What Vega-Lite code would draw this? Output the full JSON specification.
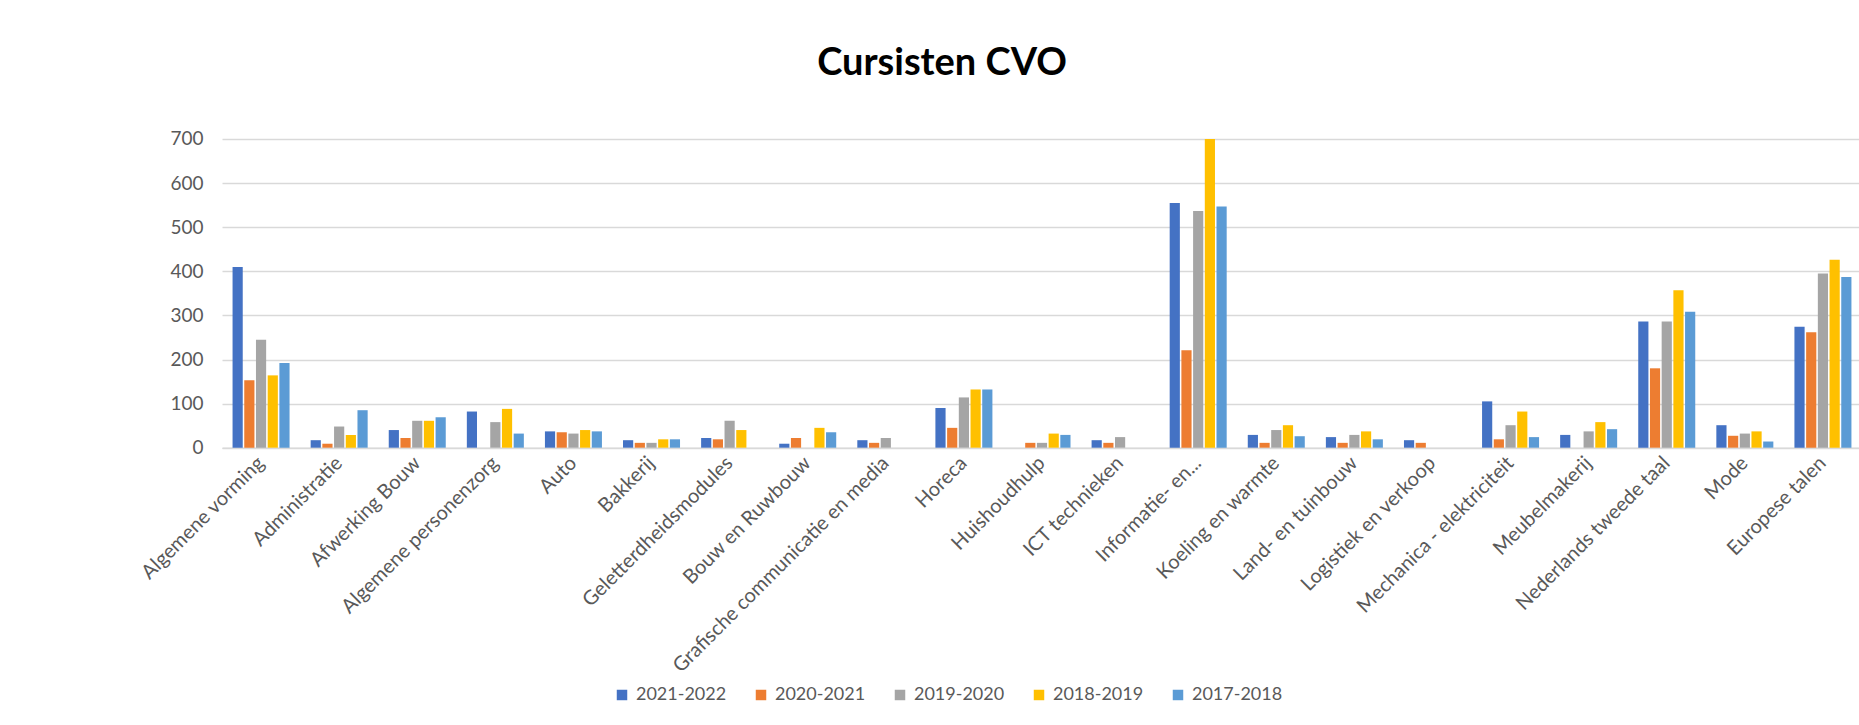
{
  "$schema": "https://vega.github.io/schema/vega-lite/v6.json",
  "autosize": {"type": "none"},
  "padding": {"left": 222, "top": 139, "right": 0, "bottom": 277},
  "width": 1640,
  "height": 308.7,
  "background": "white",
  "title": {
    "text": "Cursisten CVO",
    "font": "Lato",
    "fontSize": 38,
    "fontWeight": "bold",
    "color": "#000000",
    "anchor": "middle",
    "frame": "group",
    "dx": -100,
    "baseline": "alphabetic",
    "offset": 17
  },
  "data": {
    "values": [
      {"c": "Algemene vorming", "s": "2021-2022", "v": 410},
      {"c": "Algemene vorming", "s": "2020-2021", "v": 153},
      {"c": "Algemene vorming", "s": "2019-2020", "v": 245},
      {"c": "Algemene vorming", "s": "2018-2019", "v": 164},
      {"c": "Algemene vorming", "s": "2017-2018", "v": 192},
      {"c": "Administratie", "s": "2021-2022", "v": 17},
      {"c": "Administratie", "s": "2020-2021", "v": 9},
      {"c": "Administratie", "s": "2019-2020", "v": 48},
      {"c": "Administratie", "s": "2018-2019", "v": 29},
      {"c": "Administratie", "s": "2017-2018", "v": 85},
      {"c": "Afwerking Bouw", "s": "2021-2022", "v": 40},
      {"c": "Afwerking Bouw", "s": "2020-2021", "v": 22},
      {"c": "Afwerking Bouw", "s": "2019-2020", "v": 61},
      {"c": "Afwerking Bouw", "s": "2018-2019", "v": 61},
      {"c": "Afwerking Bouw", "s": "2017-2018", "v": 69},
      {"c": "Algemene personenzorg", "s": "2021-2022", "v": 82},
      {"c": "Algemene personenzorg", "s": "2019-2020", "v": 58},
      {"c": "Algemene personenzorg", "s": "2018-2019", "v": 88},
      {"c": "Algemene personenzorg", "s": "2017-2018", "v": 32},
      {"c": "Auto", "s": "2021-2022", "v": 37},
      {"c": "Auto", "s": "2020-2021", "v": 35},
      {"c": "Auto", "s": "2019-2020", "v": 32},
      {"c": "Auto", "s": "2018-2019", "v": 40},
      {"c": "Auto", "s": "2017-2018", "v": 37},
      {"c": "Bakkerij", "s": "2021-2022", "v": 17},
      {"c": "Bakkerij", "s": "2020-2021", "v": 11},
      {"c": "Bakkerij", "s": "2019-2020", "v": 11},
      {"c": "Bakkerij", "s": "2018-2019", "v": 19},
      {"c": "Bakkerij", "s": "2017-2018", "v": 19},
      {"c": "Geletterdheidsmodules", "s": "2021-2022", "v": 22},
      {"c": "Geletterdheidsmodules", "s": "2020-2021", "v": 19},
      {"c": "Geletterdheidsmodules", "s": "2019-2020", "v": 61},
      {"c": "Geletterdheidsmodules", "s": "2018-2019", "v": 40},
      {"c": "Bouw en Ruwbouw", "s": "2021-2022", "v": 9},
      {"c": "Bouw en Ruwbouw", "s": "2020-2021", "v": 22},
      {"c": "Bouw en Ruwbouw", "s": "2018-2019", "v": 45},
      {"c": "Bouw en Ruwbouw", "s": "2017-2018", "v": 35},
      {"c": "Grafische communicatie en media", "s": "2021-2022", "v": 17},
      {"c": "Grafische communicatie en media", "s": "2020-2021", "v": 11},
      {"c": "Grafische communicatie en media", "s": "2019-2020", "v": 22},
      {"c": "Horeca", "s": "2021-2022", "v": 90},
      {"c": "Horeca", "s": "2020-2021", "v": 45},
      {"c": "Horeca", "s": "2019-2020", "v": 114},
      {"c": "Horeca", "s": "2018-2019", "v": 132},
      {"c": "Horeca", "s": "2017-2018", "v": 132},
      {"c": "Huishoudhulp", "s": "2020-2021", "v": 11},
      {"c": "Huishoudhulp", "s": "2019-2020", "v": 11},
      {"c": "Huishoudhulp", "s": "2018-2019", "v": 32},
      {"c": "Huishoudhulp", "s": "2017-2018", "v": 29},
      {"c": "ICT technieken", "s": "2021-2022", "v": 17},
      {"c": "ICT technieken", "s": "2020-2021", "v": 11},
      {"c": "ICT technieken", "s": "2019-2020", "v": 24},
      {"c": "Informatie- en...", "s": "2021-2022", "v": 555},
      {"c": "Informatie- en...", "s": "2020-2021", "v": 221},
      {"c": "Informatie- en...", "s": "2019-2020", "v": 537},
      {"c": "Informatie- en...", "s": "2018-2019", "v": 700},
      {"c": "Informatie- en...", "s": "2017-2018", "v": 547},
      {"c": "Koeling en warmte", "s": "2021-2022", "v": 29},
      {"c": "Koeling en warmte", "s": "2020-2021", "v": 11},
      {"c": "Koeling en warmte", "s": "2019-2020", "v": 40},
      {"c": "Koeling en warmte", "s": "2018-2019", "v": 51},
      {"c": "Koeling en warmte", "s": "2017-2018", "v": 26},
      {"c": "Land- en tuinbouw", "s": "2021-2022", "v": 24},
      {"c": "Land- en tuinbouw", "s": "2020-2021", "v": 11},
      {"c": "Land- en tuinbouw", "s": "2019-2020", "v": 29},
      {"c": "Land- en tuinbouw", "s": "2018-2019", "v": 37},
      {"c": "Land- en tuinbouw", "s": "2017-2018", "v": 19},
      {"c": "Logistiek en verkoop", "s": "2021-2022", "v": 17},
      {"c": "Logistiek en verkoop", "s": "2020-2021", "v": 11},
      {"c": "Mechanica - elektriciteit", "s": "2021-2022", "v": 105},
      {"c": "Mechanica - elektriciteit", "s": "2020-2021", "v": 19},
      {"c": "Mechanica - elektriciteit", "s": "2019-2020", "v": 51},
      {"c": "Mechanica - elektriciteit", "s": "2018-2019", "v": 82},
      {"c": "Mechanica - elektriciteit", "s": "2017-2018", "v": 24},
      {"c": "Meubelmakerij", "s": "2021-2022", "v": 29},
      {"c": "Meubelmakerij", "s": "2019-2020", "v": 37},
      {"c": "Meubelmakerij", "s": "2018-2019", "v": 58},
      {"c": "Meubelmakerij", "s": "2017-2018", "v": 42},
      {"c": "Nederlands tweede taal", "s": "2021-2022", "v": 286},
      {"c": "Nederlands tweede taal", "s": "2020-2021", "v": 180},
      {"c": "Nederlands tweede taal", "s": "2019-2020", "v": 286},
      {"c": "Nederlands tweede taal", "s": "2018-2019", "v": 357},
      {"c": "Nederlands tweede taal", "s": "2017-2018", "v": 308},
      {"c": "Mode", "s": "2021-2022", "v": 51},
      {"c": "Mode", "s": "2020-2021", "v": 27},
      {"c": "Mode", "s": "2019-2020", "v": 32},
      {"c": "Mode", "s": "2018-2019", "v": 37},
      {"c": "Mode", "s": "2017-2018", "v": 14},
      {"c": "Europese talen", "s": "2021-2022", "v": 274},
      {"c": "Europese talen", "s": "2020-2021", "v": 262},
      {"c": "Europese talen", "s": "2019-2020", "v": 395},
      {"c": "Europese talen", "s": "2018-2019", "v": 426},
      {"c": "Europese talen", "s": "2017-2018", "v": 387}
    ]
  },
  "mark": {"type": "bar"},
  "encoding": {
    "x": {
      "field": "c",
      "type": "nominal",
      "sort": null,
      "scale": {"paddingInner": 0.27, "paddingOuter": 0.135},
      "axis": {
        "title": null,
        "labelAngle": -45,
        "labelAlign": "right",
        "labelBaseline": "middle",
        "labelFont": "Lato",
        "labelFontSize": 20,
        "labelColor": "#595959",
        "labelPadding": 12,
        "ticks": false,
        "tickSize": 0,
        "domainColor": "#d9d9d9",
        "domainWidth": 1.5,
        "labelOverlap": false,
        "labelLimit": 400
      }
    },
    "xOffset": {
      "field": "s",
      "type": "nominal",
      "scale": {
        "domain": ["2021-2022", "2020-2021", "2019-2020", "2018-2019", "2017-2018"],
        "paddingInner": 0.13
      }
    },
    "y": {
      "field": "v",
      "type": "quantitative",
      "scale": {"domain": [0, 700], "nice": false},
      "axis": {
        "title": null,
        "values": [0, 100, 200, 300, 400, 500, 600, 700],
        "labelFont": "Lato",
        "labelFontSize": 19,
        "labelColor": "#595959",
        "labelPadding": 19,
        "ticks": false,
        "tickSize": 0,
        "domain": false,
        "gridColor": "#d9d9d9",
        "gridWidth": 1.4
      }
    },
    "color": {
      "field": "s",
      "type": "nominal",
      "scale": {
        "domain": ["2021-2022", "2020-2021", "2019-2020", "2018-2019", "2017-2018"],
        "range": ["#4472C4", "#ED7D31", "#A5A5A5", "#FFC000", "#5B9BD5"]
      },
      "legend": {
        "title": null,
        "orient": "none",
        "direction": "horizontal",
        "legendX": 391,
        "legendY": 547,
        "padding": 0,
        "symbolType": "square",
        "symbolSize": 110,
        "symbolStrokeWidth": 0,
        "labelFont": "Lato",
        "labelFontSize": 18,
        "labelColor": "#595959",
        "labelOffset": 5,
        "columnPadding": 25
      }
    }
  },
  "config": {
    "view": {"stroke": null}
  }
}
